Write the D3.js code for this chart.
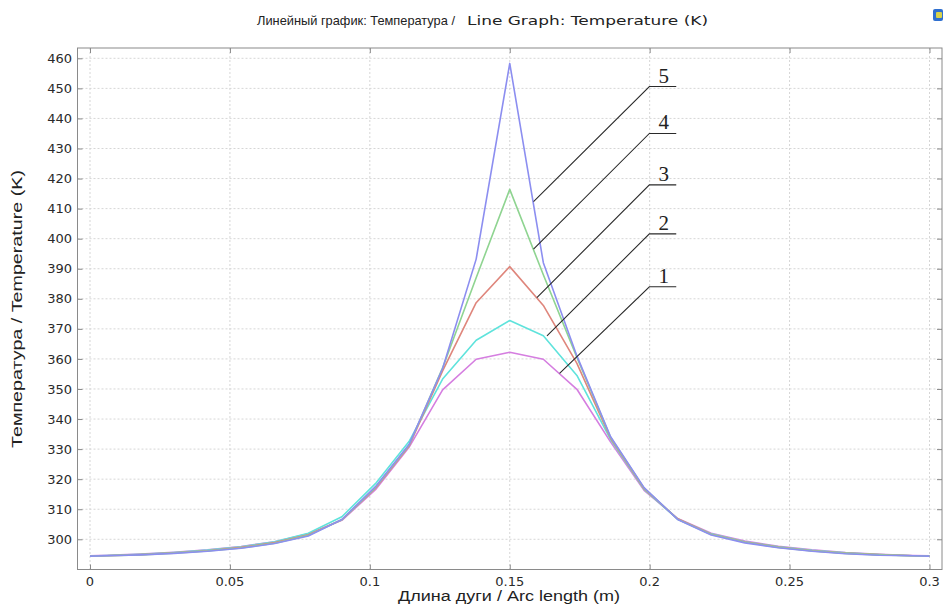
<!DOCTYPE html>
<html>
<head>
<meta charset="utf-8">
<script src="https://cdn.jsdelivr.net/npm/d3@7"></script>
<style>
  html, body { margin: 0; padding: 0; background: #fff; }
  svg { display: block; }
</style>
</head>
<body>
<svg id="chart" width="943" height="606"></svg>
<script>
// Arc length samples (m)
const arcLength = [0, 0.006, 0.018, 0.030, 0.042, 0.054, 0.066, 0.078, 0.090, 0.102, 0.114, 0.126, 0.138,
  0.150, 0.162, 0.174, 0.186, 0.198, 0.210, 0.222, 0.234, 0.246, 0.258, 0.270, 0.282, 0.294, 0.3];

// Temperature (K), curves 1..5
const temp1 = [294.5, 294.7, 295.1, 295.7, 296.5, 297.6, 299.2, 301.8, 306.3, 316.5, 330.6, 349.7, 359.9,
  362.2, 359.9, 349.9, 332.4, 316.3, 306.9, 302.0, 299.4, 297.7, 296.5, 295.6, 295.0, 294.6, 294.5];
const temp2 = [294.4, 294.6, 295.0, 295.6, 296.4, 297.5, 299.2, 302.0, 307.5, 318.5, 332.5, 353.3, 366.2,
  372.8, 367.7, 354.5, 333.2, 316.6, 306.7, 301.8, 299.2, 297.5, 296.3, 295.5, 294.9, 294.5, 294.4];
const temp3 = [294.4, 294.5, 294.9, 295.5, 296.2, 297.3, 298.9, 301.5, 306.5, 317.0, 331.0, 356.0, 378.7,
  390.7, 377.8, 358.5, 333.6, 316.8, 306.8, 301.7, 299.1, 297.4, 296.2, 295.4, 294.9, 294.5, 294.4];
const temp4 = [294.4, 294.5, 294.8, 295.4, 296.1, 297.1, 298.7, 301.3, 306.5, 317.2, 331.3, 357.0, 387.0,
  416.4, 388.0, 360.5, 334.0, 317.0, 306.7, 301.6, 299.0, 297.3, 296.1, 295.3, 294.8, 294.5, 294.4];
const temp5 = [294.4, 294.5, 294.8, 295.3, 296.0, 297.0, 298.6, 301.1, 306.6, 317.5, 331.5, 356.8, 393.2,
  458.3, 392.0, 361.0, 334.2, 317.2, 306.6, 301.4, 298.8, 297.2, 296.0, 295.2, 294.7, 294.5, 294.4];

const SERIES = [temp1, temp2, temp3, temp4, temp5];
const COLORS = ['#d57ee0', '#5fe3dc', '#df867c', '#8fd491', '#8c8ef0'];

const xTicks = [0, 0.05, 0.1, 0.15, 0.2, 0.25, 0.3];
const yTicks = [300, 310, 320, 330, 340, 350, 360, 370, 380, 390, 400, 410, 420, 430, 440, 450, 460];

// Curve labels: number, tip on the curve, elbow of leader (data units)
const labelNames = ['1', '2', '3', '4', '5'];
const labelTipX = [0.1678, 0.1633, 0.1597, 0.1585, 0.1585];
const labelTipY = [355.2, 367.7, 380.4, 396.5, 412.3];
const labelElbowY = [384.0, 401.6, 417.9, 435.0, 450.6];
const labelElbowX = 0.1999;
const labelEndX = 0.2095;

const svg = d3.select('#chart');
const L = 77.5, R = 942, T = 48, B = 569.5;

const x = d3.scaleLinear().domain([-0.00447, 0.30447]).range([L, R]);
const y = d3.scaleLinear().domain([289.95, 463.43]).range([B, T]);

// Grid
const grid = svg.append('g').attr('stroke', '#d6d6d6').attr('stroke-dasharray', '2,2').attr('stroke-width', 1);
xTicks.forEach(t => {
  grid.append('line').attr('x1', x(t)).attr('x2', x(t)).attr('y1', T).attr('y2', B);
});
yTicks.forEach(t => {
  grid.append('line').attr('x1', L).attr('x2', R).attr('y1', y(t)).attr('y2', y(t));
});

// Axes (ticks inward)
const axisColor = '#8a8a8a';
const fmtX = d => String(+d.toFixed(2));

const ax = [
  svg.append('g').attr('transform', `translate(0,${B})`).call(d3.axisTop(x).tickValues(xTicks).tickSize(5).tickFormat('')),
  svg.append('g').attr('transform', `translate(0,${T})`).call(d3.axisBottom(x).tickValues(xTicks).tickSize(5).tickFormat('')),
  svg.append('g').attr('transform', `translate(${L},0)`).call(d3.axisRight(y).tickValues(yTicks).tickSize(5).tickFormat('')),
  svg.append('g').attr('transform', `translate(${R},0)`).call(d3.axisLeft(y).tickValues(yTicks).tickSize(5).tickFormat(''))
];
ax.forEach(g => {
  g.select('.domain').remove();
  g.selectAll('line').attr('stroke', axisColor);
});

svg.append('rect')
  .attr('x', L).attr('y', T).attr('width', R - L).attr('height', B - T)
  .attr('fill', 'none').attr('stroke', axisColor).attr('stroke-width', 1);

// Tick labels
const tickFont = 'DejaVu Sans, sans-serif';
svg.append('g').selectAll('text').data(xTicks).join('text')
  .attr('x', d => x(d)).attr('y', 586)
  .attr('text-anchor', 'middle')
  .attr('font-family', tickFont).attr('font-size', 13).attr('fill', '#2a2a2a')
  .text(fmtX);

svg.append('g').selectAll('text').data(yTicks).join('text')
  .attr('x', 72).attr('y', d => y(d) + 4.6)
  .attr('text-anchor', 'end')
  .attr('font-family', tickFont).attr('font-size', 13).attr('fill', '#2a2a2a')
  .text(d => d);

// Lines
const line = d3.line().x((d, i) => x(arcLength[i])).y(d => y(d));
svg.append('g').selectAll('path').data(SERIES).join('path')
  .attr('d', d => line(d))
  .attr('fill', 'none')
  .attr('stroke', (d, i) => COLORS[i])
  .attr('stroke-width', 1.6)
  .attr('stroke-linejoin', 'round');

// Curve labels with leaders
const lab = svg.append('g');
labelNames.forEach((name, i) => {
  const ex = x(labelElbowX), ey = y(labelElbowY[i]);
  lab.append('path')
    .attr('d', `M${x(labelTipX[i])},${y(labelTipY[i])}L${ex},${ey}L${x(labelEndX)},${ey}`)
    .attr('fill', 'none').attr('stroke', '#2a2a2a').attr('stroke-width', 1.1);
  lab.append('text')
    .attr('x', (ex + x(labelEndX)) / 2 + 1).attr('y', ey - 4)
    .attr('text-anchor', 'middle')
    .attr('font-family', 'Liberation Serif, Times New Roman, serif')
    .attr('font-size', 21).attr('fill', '#222')
    .text(name);
});

// Titles
svg.append('text')
  .attr('x', 257).attr('y', 25)
  .attr('font-family', 'Liberation Sans, Arial, sans-serif')
  .attr('font-size', 13.5).attr('fill', '#222')
  .attr('textLength', 198).attr('lengthAdjust', 'spacingAndGlyphs')
  .text('Линейный график: Температура /');
svg.append('text')
  .attr('x', 467).attr('y', 25)
  .attr('font-family', 'DejaVu Sans, sans-serif')
  .attr('font-size', 12.5).attr('fill', '#222')
  .attr('textLength', 241).attr('lengthAdjust', 'spacingAndGlyphs')
  .text('Line Graph: Temperature (K)');

svg.append('text')
  .attr('x', 398).attr('y', 601)
  .attr('font-family', 'Liberation Sans, Arial, sans-serif').attr('font-size', 14).attr('fill', '#222')
  .attr('textLength', 222).attr('lengthAdjust', 'spacingAndGlyphs')
  .text('Длина дуги / Arc length (m)');

svg.append('text')
  .attr('transform', 'translate(22,448) rotate(-90)')
  .attr('font-family', 'Liberation Sans, Arial, sans-serif').attr('font-size', 15).attr('fill', '#222')
  .attr('textLength', 278).attr('lengthAdjust', 'spacingAndGlyphs')
  .text('Температура / Temperature (K)');

// small toolbar icon, top right
const icon = svg.append('g');
icon.append('rect').attr('x', 933).attr('y', 9).attr('width', 10).attr('height', 12).attr('rx', 2).attr('fill', '#2f6fcf');
icon.append('rect').attr('x', 936).attr('y', 12).attr('width', 6).attr('height', 6).attr('rx', 1).attr('fill', '#d8d24a');
</script>
</body>
</html>
